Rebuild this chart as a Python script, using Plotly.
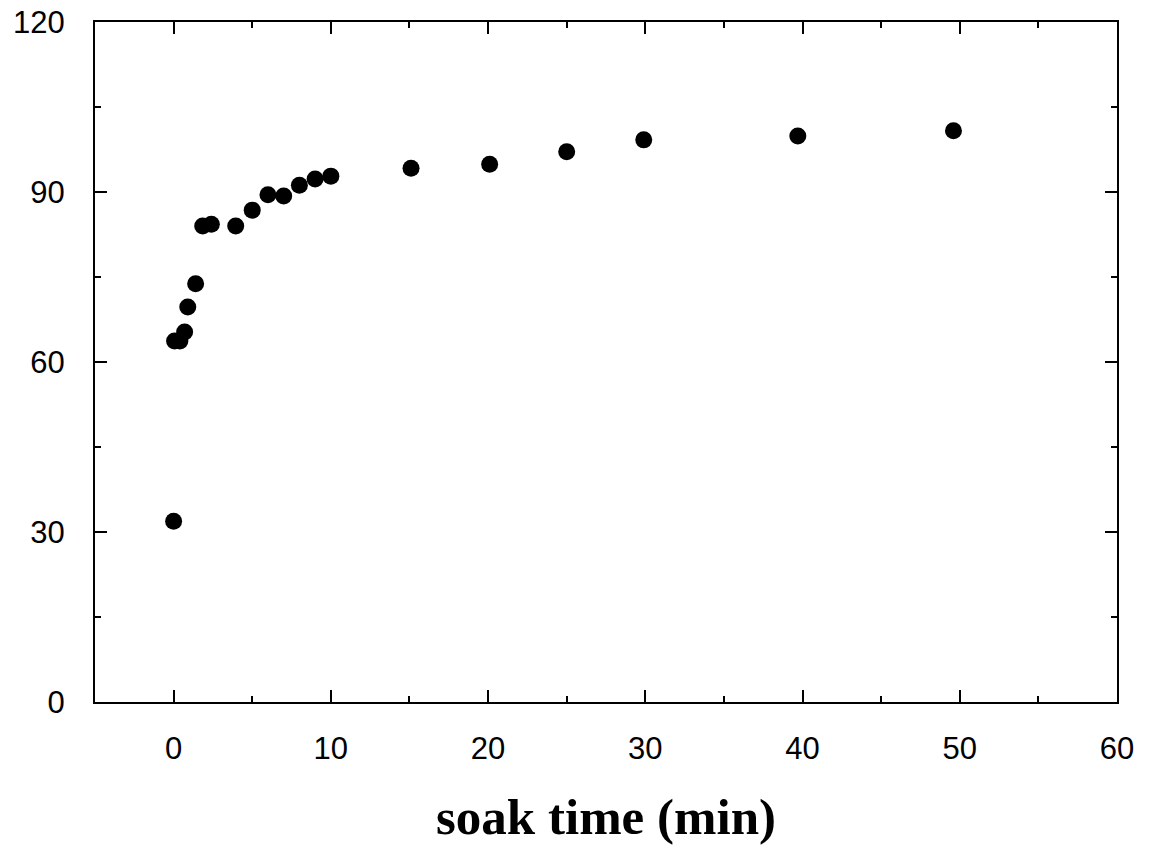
import plotly.graph_objects as go

soak_time = [0.0, 0.06, 0.4, 0.7, 0.9, 1.4, 1.85, 2.4, 3.95, 5.0, 6.0, 7.0, 8.0, 9.0, 10.0,
             15.1, 20.1, 25.0, 29.9, 39.7, 49.6]
value = [31.9, 63.7, 63.7, 65.3, 69.7, 73.8, 84.0, 84.3, 84.0, 86.8, 89.5, 89.3, 91.2, 92.3, 92.8,
         94.2, 94.9, 97.1, 99.2, 99.9, 100.8]

x_ticks = [0, 10, 20, 30, 40, 50, 60]
y_ticks = [0, 30, 60, 90, 120]

fig = go.Figure()
fig.add_trace(go.Scatter(x=soak_time, y=value, mode="markers",
                         marker=dict(color="black", size=17, line=dict(width=0)),
                         showlegend=False, cliponaxis=False))

axis_common = dict(showgrid=False, zeroline=False, showline=True, linecolor="black", linewidth=2,
                   mirror="allticks", ticks="inside", ticklen=12, tickwidth=1.5, tickcolor="black",
                   tickfont=dict(family="Liberation Sans, Arial", size=31, color="black"),
                   automargin=False,
                   minor=dict(ticks="inside", ticklen=6, tickwidth=1.5, tickcolor="black"))

fig.update_xaxes(range=[-5, 60], tickvals=x_ticks, minor_dtick=5, ticklabelstandoff=18, **axis_common,
                 title=dict(text="<b>soak time (min)</b>",
                            font=dict(family="Liberation Serif, Times New Roman", size=51, color="black"),
                            standoff=33))
fig.update_yaxes(range=[0, 120], tickvals=y_ticks, minor_dtick=15, ticklabelstandoff=22, **axis_common)

fig.update_layout(width=1154, height=865, margin=dict(l=95, r=37, t=22, b=163),
                  plot_bgcolor="white", paper_bgcolor="white")

fig.write_html("out.html")
